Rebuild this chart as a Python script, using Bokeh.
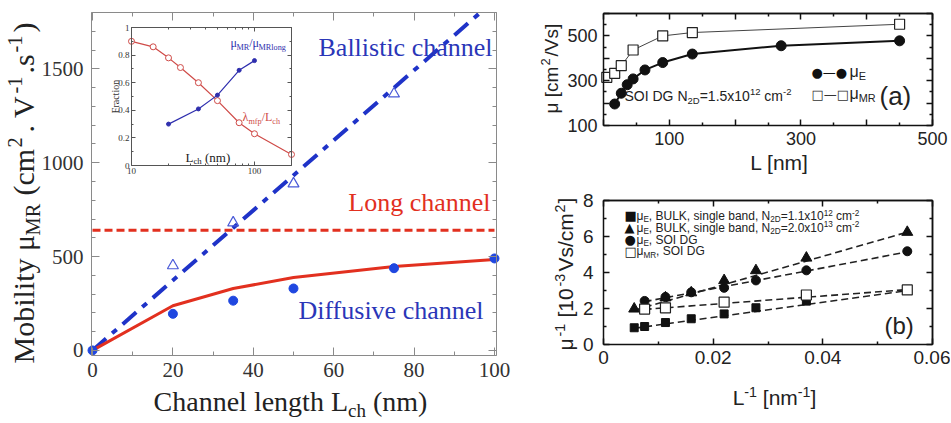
import math
from bokeh.plotting import figure
from bokeh.models import Range1d, Label, LinearAxis, LogAxis, FixedTicker
from bokeh.layouts import row, column
from bokeh.embed import file_html
from bokeh.resources import INLINE

# ---------------- data: main panel (mobility vs channel length) ----------------
L_diffusive = [0, 20, 35, 50, 75, 100]
mu_diffusive = [0, 195, 265, 330, 438, 490]
L_model = [0, 20, 35, 50, 75, 100]
mu_model = [0, 238, 330, 388, 447, 484]
L_long = [0, 100]
mu_long = [640, 640]
L_ball_line = [0, 96.5]
mu_ball_line = [0, 1800]
L_ball_pts = [20, 35, 50, 75]
mu_ball_pts = [452, 680, 888, 1367]
main_xticks = [0, 20, 40, 60, 80, 100]
main_xlabels = ["0", "20", "40", "60", "80", "100"]
main_xminor = [10, 30, 50, 70, 90]
main_yticks = [0, 500, 1000, 1500]
main_ylabels = ["0", "500", "1000", "1500"]
main_yminor = [100, 200, 300, 400, 600, 700, 800, 900, 1100, 1200, 1300, 1400, 1600, 1700]

# ---------------- data: inset (fraction vs Lch, log axis) ----------------
inset_L_red = [10, 15, 20, 25, 35, 50, 75, 100, 200]
inset_frac_red = [0.90, 0.86, 0.78, 0.71, 0.60, 0.47, 0.31, 0.23, 0.08]
inset_L_blue = [20, 35, 50, 75, 100]
inset_frac_blue = [0.30, 0.41, 0.51, 0.69, 0.76]
inset_xticks = [10, 100]
inset_xlabels = ["10", "100"]
inset_xminor = [20, 30, 40, 50, 60, 70, 80, 90]
inset_yticks = [0, 0.2, 0.4, 0.6, 0.8, 1.0]
inset_ylabels = ["0", "0.2", "0.4", "0.6", "0.8", "1"]
inset_yminor = [0.1, 0.3, 0.5, 0.7, 0.9]

# ---------------- data: panel (a) ----------------
a_L_E = [17, 27, 36, 45, 63, 90, 135, 270, 450]
a_mu_E = [196, 244, 282, 308, 348, 381, 419, 456, 478]
a_L_MR = [5, 17, 27, 45, 90, 135, 450]
a_mu_MR = [315, 333, 367, 437, 500, 515, 552]
a_xticks = [0, 100, 200, 300, 400, 500]
a_xlabels = ["", "100", "", "300", "", "500"]
a_xminor = [50, 150, 250, 350, 450]
a_yticks = [100, 200, 300, 400, 500, 600]
a_ylabels = ["100", "", "300", "", "500", ""]
a_yminor = [150, 250, 350, 450, 550]

# ---------------- data: panel (b) ----------------
b_invL_sq = [0.0056, 0.0075, 0.0113, 0.016, 0.022, 0.0278, 0.037, 0.0554]
b_inv_sq = [0.93, 1.00, 1.22, 1.43, 1.70, 2.04, 2.41, 3.00]
b_invL_tri = [0.0056, 0.0113, 0.016, 0.022, 0.0278, 0.037, 0.0554]
b_inv_tri = [1.98, 2.60, 2.88, 3.56, 4.11, 4.81, 6.24]
b_invL_circ = [0.0075, 0.0113, 0.016, 0.022, 0.0278, 0.037, 0.0554]
b_inv_circ = [2.42, 2.64, 2.90, 3.15, 3.56, 4.12, 5.18]
b_invL_osq = [0.0075, 0.0113, 0.022, 0.037, 0.0554]
b_inv_osq = [1.97, 2.04, 2.35, 2.75, 3.03]
b_fit_sq_x, b_fit_sq_y = [0.0056, 0.0555], [0.90, 3.00]
b_fit_tri_x, b_fit_tri_y = [0.0056, 0.0555], [1.90, 6.25]
b_fit_circ_x, b_fit_circ_y = [0.0075, 0.0555], [2.38, 5.15]
b_fit_osq_x, b_fit_osq_y = [0.0075, 0.0555], [1.95, 3.05]
b_xticks = [0, 0.02, 0.04, 0.06]
b_xlabels = ["0", "0.02", "0.04", "0.06"]
b_xminor = [0.01, 0.03, 0.05]
b_yticks = [0, 2, 4, 6, 8]
b_ylabels = ["0", "2", "4", "6", "8"]
b_yminor = [1, 3, 5, 7]

# ---------------- styles ----------------
SERIF = "Liberation Serif"
SANS = "Liberation Sans"
SYM = "DejaVu Sans"
BLUE_TXT = "#2a36b8"
BLUE_DOT = "#1f47e0"
BLUE_LINE = "#1f33c8"
BLUE_TRI = "#4a5ad8"
RED = "#e2301f"
RED_IN = "#cf4b48"
BLUE_IN = "#2f2fae"
GRAY = "#8a8a8a"
MID = 0.34  # distance baseline -> middle of text box, in em

TIMES = {' ': .25, '(': .333, ')': .333, '.': .25, ',': .25, '/': .278, '-': .333,
         '=': .564, '[': .333, ']': .333, 'a': .444, 'b': .5, 'c': .444, 'd': .5,
         'e': .444, 'f': .333, 'g': .5, 'h': .5, 'i': .278, 'l': .278, 'm': .778,
         'n': .5, 'o': .5, 'p': .5, 'r': .333, 's': .389, 't': .278, 'u': .5,
         'v': .5, 'y': .5, 'L': .611, 'M': .889, 'R': .667, 'V': .722, 'C': .667,
         'μ': .5, 'λ': .5}
ARIAL = {' ': .278, '(': .333, ')': .333, '.': .278, ',': .278, '/': .278, '-': .333,
         '=': .584, '[': .278, ']': .278, 'a': .556, 'b': .556, 'c': .5, 'd': .556,
         'e': .556, 'g': .556, 'i': .222, 'k': .5, 'l': .222, 'm': .833, 'n': .556,
         's': .5, 'x': .5, 'B': .667, 'U': .722, 'L': .556, 'K': .667, 'N': .722,
         'D': .722, 'E': .667, 'M': .833, 'R': .722, 'S': .667, 'O': .778, 'G': .778,
         'I': .278, 'V': .667, 'μ': .576}


def tw(s, size, table):
    dflt = 0.556 if table is ARIAL else 0.5
    return size * sum(table.get(c, dflt) for c in s)


def rich(fig, x, y, parts, size, font, color, table, angle=0.0, align="left", scale=0.68,
         starts=None):
    """Text with sub/superscripts built from several Labels; (x, y) is the start on the baseline."""
    sizes = [size * (1 if k == "n" else scale) for _, k in parts]
    total = sum(tw(t, s, table) for (t, _), s in zip(parts, sizes))
    pos = {"left": 0.0, "center": -total / 2, "right": -total}[align]
    for i, ((t, k), s) in enumerate(zip(parts, sizes)):
        body = t.lstrip(" ")
        pos += tw(t[:len(t) - len(body)], s, table)
        p0 = starts[i] if starts is not None else pos
        up = {"n": 0.0, "sub": -0.2 * size, "sup": 0.38 * size}[k] + MID * s
        if angle == 0:
            xo, yo = p0, up
        else:
            xo, yo = -up, p0
        fig.add_layout(Label(x=x, y=y, x_offset=xo, y_offset=yo, text=body, angle=angle,
                             text_font=font, text_font_size=f"{s:.1f}px", text_color=color,
                             text_baseline="middle", text_align="left"))
        pos += tw(body, s, table)


def lab(fig, x, y, text, size, font, color, align="left", baseline="alphabetic", angle=0.0):
    up = MID * size if baseline == "alphabetic" else 0.0
    xo, yo = (0.0, up) if angle == 0 else (-up, 0.0)
    fig.add_layout(Label(x=x, y=y, x_offset=xo, y_offset=yo, text=text, text_font=font,
                         text_font_size=f"{size}px", text_color=color, text_align=align,
                         text_baseline="middle", angle=angle))


def conv(px, p0, p1, d0, d1):
    return d0 + (px - p0) / (p1 - p0) * (d1 - d0)


def make_fig(origin, size, box, dbox, log_x=False):
    """Figure whose frame is the whole canvas; box = page pixel edges (l, r, t, b) of the axes box."""
    ox, oy = origin
    w, h = size
    l, r, t, b = box
    x0, x1, y0, y1 = dbox
    if log_x:
        lx0, lx1 = math.log10(x0), math.log10(x1)
        xs = 10 ** conv(ox, l, r, lx0, lx1)
        xe = 10 ** conv(ox + w, l, r, lx0, lx1)
    else:
        xs = conv(ox, l, r, x0, x1)
        xe = conv(ox + w, l, r, x0, x1)
    ys = conv(oy + h, b, t, y0, y1)
    ye = conv(oy, b, t, y0, y1)
    p = figure(width=w, height=h, x_range=Range1d(xs, xe), y_range=Range1d(ys, ye),
               x_axis_type="log" if log_x else "linear", x_axis_location=None,
               y_axis_location=None, output_backend="svg", toolbar_location=None,
               min_border=0, outline_line_color=None)
    p.grid.visible = False
    return p


def style_axis(ax, font, size, color, standoff, lcolor, lwidth, tin, min_in):
    ax.major_label_text_font = font
    ax.major_label_text_font_size = f"{size}px"
    ax.major_label_text_color = color
    ax.major_label_standoff = standoff
    ax.axis_line_color = lcolor
    ax.axis_line_width = lwidth
    ax.major_tick_line_color = lcolor
    ax.minor_tick_line_color = lcolor
    ax.major_tick_line_width = lwidth
    ax.minor_tick_line_width = lwidth
    ax.major_tick_in = tin
    ax.major_tick_out = 0
    ax.minor_tick_in = min_in
    ax.minor_tick_out = 0


def add_axes(p, dbox, xmaj, xlab, xmin, ymaj, ylab, ymin, font, size, tcolor, lcolor, lwidth,
             tin, min_in, xstand, ystand, log_x=False):
    x0, x1, y0, y1 = dbox
    AxX = LogAxis if log_x else LinearAxis
    bottom = AxX(ticker=FixedTicker(ticks=xmaj, minor_ticks=xmin), fixed_location=y0, bounds=(x0, x1))
    bottom.major_label_overrides = dict(zip(xmaj, xlab))
    style_axis(bottom, font, size, tcolor, xstand, lcolor, lwidth, tin, min_in)
    left = LinearAxis(ticker=FixedTicker(ticks=ymaj, minor_ticks=ymin), fixed_location=x0, bounds=(y0, y1))
    left.major_label_overrides = dict(zip(ymaj, ylab))
    style_axis(left, font, size, tcolor, ystand, lcolor, lwidth, tin, min_in)
    p.add_layout(bottom, "below")
    p.add_layout(left, "left")
    # mirrored tick marks on the top and right edges (no labels)
    for ticks, tlen in ((xmaj, tin), (xmin, min_in)):
        ax = AxX(ticker=FixedTicker(ticks=[], minor_ticks=ticks), fixed_location=y1, bounds=(x0, x1))
        style_axis(ax, font, size, tcolor, 0, lcolor, lwidth, tin, tlen)
        p.add_layout(ax, "above")
    for ticks, tlen in ((ymaj, tin), (ymin, min_in)):
        ax = LinearAxis(ticker=FixedTicker(ticks=[], minor_ticks=ticks), fixed_location=x1, bounds=(y0, y1))
        style_axis(ax, font, size, tcolor, 0, lcolor, lwidth, tin, tlen)
        p.add_layout(ax, "right")


# ======================= main (left) panel =======================
M_BOX = (91, 496, 12, 355)
M_D = (-0.25, 100.5, -27, 1800)
pm = make_fig((0, 0), (538, 421), M_BOX, M_D)
add_axes(pm, M_D, main_xticks, main_xlabels, main_xminor, main_yticks, main_ylabels, main_yminor,
         SERIF, 21, "#333", GRAY, 1, 8, 4, 7, 8)

pm.line(L_ball_line, mu_ball_line, color=BLUE_LINE, line_width=4, line_dash="18 8 6 8")
pm.line(L_long, mu_long, color=RED, line_width=3, line_dash="8 4")
pm.line(L_model, mu_model, color=RED, line_width=3)
pm.scatter(L_diffusive, mu_diffusive, size=9, color=BLUE_DOT)
pm.scatter(L_ball_pts, mu_ball_pts, marker="triangle", size=11, fill_color=None,
           line_color=BLUE_TRI, line_width=1.2)

MX = lambda px: conv(px, M_BOX[0], M_BOX[1], M_D[0], M_D[1])
MY = lambda py: conv(py, M_BOX[3], M_BOX[2], M_D[2], M_D[3])
lab(pm, MX(492), MY(47), "Ballistic channel", 26, SERIF, BLUE_TXT, "right", "middle")
lab(pm, MX(490), MY(202), "Long channel", 26, SERIF, RED, "right", "middle")
lab(pm, MX(483), MY(310), "Diffusive channel", 26, SERIF, BLUE_TXT, "right", "middle")
rich(pm, MX(33), MY(363), [("Mobility μ", "n"), ("MR", "sub"), (" (cm", "n"), ("2", "sup"),
                           (". V", "n"), ("-1", "sup"), (".s", "n"), ("-1", "sup"), (")", "n")],
     30, SERIF, "#222", TIMES, angle=math.pi / 2,
     starts=[0, 128, 168, 216, 231, 270, 290, 311, 331])
rich(pm, MX(290), MY(411), [("Channel length L", "n"), ("ch", "sub"), (" (nm)", "n")],
     28, SERIF, "#222", TIMES, align="center")

# ======================= inset =======================
I_BOX = (131, 291, 27, 165)
I_D = (10, 200, 0, 1)
pi = make_fig((99, 21), (198, 160), I_BOX, I_D, log_x=True)
pi.background_fill_alpha = 0
pi.border_fill_alpha = 0
pi.styles = {"position": "absolute", "left": "99px", "top": "21px"}
add_axes(pi, I_D, inset_xticks, inset_xlabels, inset_xminor, inset_yticks, inset_ylabels,
         inset_yminor, SERIF, 9, "#333", "#555", 1, 4, 2, 2, 2, log_x=True)

pi.line(inset_L_red, inset_frac_red, color=RED_IN, line_width=1.2)
pi.scatter(inset_L_red, inset_frac_red, size=6, fill_color="white", line_color=RED_IN, line_width=1)
pi.line(inset_L_blue, inset_frac_blue, color=BLUE_IN, line_width=1.2)
pi.scatter(inset_L_blue, inset_frac_blue, size=4, color=BLUE_IN)

IXc = lambda px: 10 ** conv(px, I_BOX[0], I_BOX[1], math.log10(I_D[0]), math.log10(I_D[1]))
IYc = lambda py: conv(py, I_BOX[3], I_BOX[2], I_D[2], I_D[3])
rich(pi, IXc(230), IYc(47), [("μ", "n"), ("MR", "sub"), ("/μ", "n"), ("MRlong", "sub")],
     12, SERIF, BLUE_IN, TIMES)
rich(pi, IXc(242), IYc(121), [("λ", "n"), ("mfp", "sub"), ("/L", "n"), ("ch", "sub")],
     12, SERIF, RED_IN, TIMES)
rich(pi, IXc(185), IYc(161), [("L", "n"), ("ch", "sub"), (" (nm)", "n")], 13, SERIF, "#222", TIMES)
lab(pi, IXc(115), IYc(96), "Fraction", 10, SERIF, "#333", "center", "middle", angle=math.pi / 2)

# ======================= panel (a) =======================
A_BOX = (603, 932, 13, 125)
A_D = (0, 500, 100, 600)
pa = make_fig((538, 0), (412, 177), A_BOX, A_D)
add_axes(pa, A_D, a_xticks, a_xlabels, a_xminor, a_yticks, a_ylabels, a_yminor,
         SANS, 18, "#222", "#111", 1.5, 6, 3, 6, 6)

pa.line(a_L_MR, a_mu_MR, color="#444", line_width=1)
pa.scatter(a_L_MR, a_mu_MR, marker="square", size=10, fill_color="white", line_color="#222", line_width=1.2)
pa.line(a_L_E, a_mu_E, color="#111", line_width=2)
pa.scatter(a_L_E, a_mu_E, size=10, color="#111")

AX = lambda px: conv(px, A_BOX[0], A_BOX[1], A_D[0], A_D[1])
AY = lambda py: conv(py, A_BOX[3], A_BOX[2], A_D[2], A_D[3])
lab(pa, AX(811), AY(76), "●—●", 13, SYM, "#111")
lab(pa, AX(811), AY(98), "□—□", 13, SYM, "#333")
rich(pa, AX(849), AY(76), [("μ", "n"), ("E", "sub")], 16, SANS, "#222", ARIAL)
rich(pa, AX(849), AY(98), [("μ", "n"), ("MR", "sub")], 16, SANS, "#222", ARIAL)
rich(pa, AX(624), AY(100), [("SOI DG N", "n"), ("2D", "sub"), ("=1.5x10", "n"), ("12", "sup"),
                            (" cm", "n"), ("-2", "sup")], 14, SANS, "#222", ARIAL)
lab(pa, AX(879), AY(104), "(a)", 26, SANS, "#222")
rich(pa, AX(557), AY(113), [("μ [cm", "n"), ("2", "sup"), ("/Vs]", "n")], 19, SANS, "#222", ARIAL,
     angle=math.pi / 2, starts=[0, 48, 57])
lab(pa, AX(779), AY(169), "L [nm]", 21, SANS, "#222", "center")

# ======================= panel (b) =======================
B_BOX = (603, 932, 200, 344)
B_D = (0, 0.06, 0, 8)
pb = make_fig((538, 177), (412, 244), B_BOX, B_D)
add_axes(pb, B_D, b_xticks, b_xlabels, b_xminor, b_yticks, b_ylabels, b_yminor,
         SANS, 19, "#222", "#111", 1.5, 6, 3, 6, 10)

for fx, fy in ((b_fit_sq_x, b_fit_sq_y), (b_fit_tri_x, b_fit_tri_y),
               (b_fit_circ_x, b_fit_circ_y), (b_fit_osq_x, b_fit_osq_y)):
    pb.line(fx, fy, color="#222", line_width=1.6, line_dash="7 4")
pb.scatter(b_invL_sq, b_inv_sq, marker="square", size=8, color="#111")
pb.scatter(b_invL_tri, b_inv_tri, marker="triangle", size=11, color="#111")
pb.scatter(b_invL_circ, b_inv_circ, size=9, color="#111")
pb.scatter(b_invL_osq, b_inv_osq, marker="square", size=10, fill_color="white",
           line_color="#222", line_width=1.2)

BX = lambda px: conv(px, B_BOX[0], B_BOX[1], B_D[0], B_D[1])
BY = lambda py: conv(py, B_BOX[3], B_BOX[2], B_D[2], B_D[3])
syms = ["■", "▲", "●", "□"]
rows_y = [215, 226.7, 239.3, 250.5]
row_parts = [
    [("μ", "n"), ("E", "sub"), (", BULK, single band, N", "n"), ("2D", "sub"), ("=1.1x10", "n"),
     ("12", "sup"), (" cm", "n"), ("-2", "sup")],
    [("μ", "n"), ("E", "sub"), (", BULK, single band, N", "n"), ("2D", "sub"), ("=2.0x10", "n"),
     ("13", "sup"), (" cm", "n"), ("-2", "sup")],
    [("μ", "n"), ("E", "sub"), (", SOI DG", "n")],
    [("μ", "n"), ("MR", "sub"), (", SOI DG", "n")],
]
for s, yy, parts in zip(syms, rows_y, row_parts):
    lab(pb, BX(624), BY(yy + 4.5), s, 13, SYM, "#111")
    rich(pb, BX(636), BY(yy + 4.5), parts, 12, SANS, "#222", ARIAL)
lab(pb, BX(884), BY(333), "(b)", 24, SANS, "#222")
rich(pb, BX(572), BY(350), [("μ", "n"), ("-1", "sup"), (" [10", "n"), ("-3", "sup"),
                            ("Vs/cm", "n"), ("2", "sup"), ("]", "n")], 21, SANS, "#222", ARIAL,
     angle=math.pi / 2, starts=[0, 14, 33, 64, 79, 138, 147])
rich(pb, BX(774), BY(404), [("L", "n"), ("-1", "sup"), (" [nm", "n"), ("-1", "sup"), ("]", "n")],
     21, SANS, "#222", ARIAL, align="center")

layout = row(pm, column(pa, pb))
open("out.html", "w").write(file_html([layout, pi], INLINE))
